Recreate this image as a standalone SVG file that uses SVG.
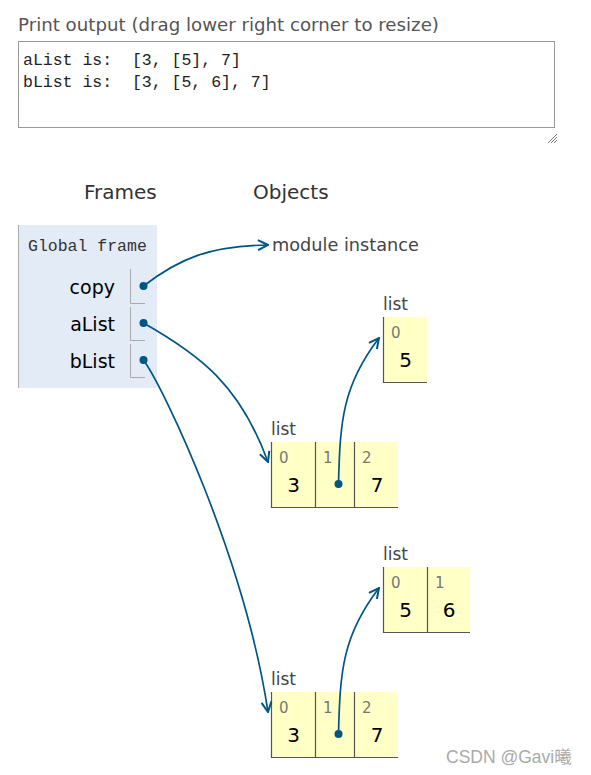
<svg xmlns="http://www.w3.org/2000/svg" width="591" height="775" viewBox="0 0 591 775">
<style>
.ui{font-family:"DejaVu Sans",Verdana,sans-serif}
.mono{font-family:"Liberation Mono","DejaVu Sans Mono",monospace;white-space:pre}
.title{font-size:18.2px;fill:#555}
.hdr{font-size:20px;fill:#333}
.var{font-size:19px;fill:#000}
.lbl{font-size:17px;fill:#444}
.mod{font-size:17.7px;fill:#444}
.idx{font-size:15px;fill:#777}
.val{font-size:20px;fill:#000}
.cell{fill:#ffffc6;stroke:none}
.bord{stroke:#555;stroke-width:1.2;fill:none}
.vcell{stroke:#aaa;stroke-width:1;fill:none}
.conn{stroke:#005583;stroke-width:1.7;fill:none;marker-end:url(#ah)}
.dot{fill:#005583}
</style>
<defs>
<marker id="ah" viewBox="0 0 12 12" refX="11" refY="6" markerWidth="12" markerHeight="12" markerUnits="userSpaceOnUse" orient="auto">
<path d="M1,1 L11,6 L1,11" fill="none" stroke="#005583" stroke-width="2"/>
</marker>
</defs>
<rect width="591" height="775" fill="#fff"/>
<g id="print-output">
<text x="18" y="31" class="ui title">Print output (drag lower right corner to resize)</text>
<rect x="18.5" y="41.5" width="536" height="86" fill="#fff" stroke="#999" stroke-width="1"/>
<text x="23" y="65" class="mono" font-size="16.5" fill="#222" xml:space="preserve">aList is:  [3, [5], 7]</text>
<text x="23" y="87" class="mono" font-size="16.5" fill="#222" xml:space="preserve">bList is:  [3, [5, 6], 7]</text>
<g stroke="#777" stroke-width="1">
<line x1="548" y1="143" x2="557" y2="134"/>
<line x1="551" y1="143" x2="557" y2="137"/>
<line x1="554" y1="143" x2="557" y2="140"/>
</g>
</g>
<text x="84" y="199" class="ui hdr">Frames</text>
<text x="253" y="199" class="ui hdr">Objects</text>
<g id="global-frame">
<rect x="18" y="225" width="139" height="163" fill="#e2ebf6"/>
<line x1="18.5" y1="225" x2="18.5" y2="388" stroke="#aaa" stroke-width="1"/>
<text x="28" y="251" class="mono" font-size="16.5" fill="#333">Global frame</text>
<text x="115" y="294" class="ui var" text-anchor="end">copy</text>
<text x="115" y="331" class="ui var" text-anchor="end">aList</text>
<text x="115" y="368" class="ui var" text-anchor="end">bList</text>
<path class="vcell" d="M130.5,269 V303.5 H145 M130.5,307 V340.5 H145 M130.5,344 V377.5 H145"/>
</g>
<g id="module-instance">
<text x="272" y="251" class="ui mod">module instance</text>
</g>
<g id="list-a-inner">
<text x="383" y="310" class="ui lbl">list</text>
<rect x="383" y="317" width="44" height="66" class="cell"/>
<path class="bord" d="M383.5,317 V382.5 H427"/>
<text x="391" y="338" class="ui idx">0</text>
<text x="405.5" y="367" class="ui val" text-anchor="middle">5</text>
</g>
<g id="list-a">
<text x="271" y="435" class="ui lbl">list</text>
<rect x="271" y="442" width="127" height="66" class="cell"/>
<path class="bord" d="M271.5,442 V507.5 H398 M315.5,442 V507.5 M354.5,442 V507.5"/>
<text x="279" y="463" class="ui idx">0</text>
<text x="323" y="463" class="ui idx">1</text>
<text x="362" y="463" class="ui idx">2</text>
<text x="293.5" y="492" class="ui val" text-anchor="middle">3</text>
<text x="377" y="492" class="ui val" text-anchor="middle">7</text>
</g>
<g id="list-b-inner">
<text x="383" y="560" class="ui lbl">list</text>
<rect x="383" y="567" width="87" height="66" class="cell"/>
<path class="bord" d="M383.5,567 V632.5 H470 M427.5,567 V632.5"/>
<text x="391" y="588" class="ui idx">0</text>
<text x="435" y="588" class="ui idx">1</text>
<text x="405.5" y="617" class="ui val" text-anchor="middle">5</text>
<text x="449" y="617" class="ui val" text-anchor="middle">6</text>
</g>
<g id="list-b">
<text x="271" y="685" class="ui lbl">list</text>
<rect x="271" y="692" width="127" height="66" class="cell"/>
<path class="bord" d="M271.5,692 V757.5 H398 M315.5,692 V757.5 M354.5,692 V757.5"/>
<text x="279" y="713" class="ui idx">0</text>
<text x="323" y="713" class="ui idx">1</text>
<text x="362" y="713" class="ui idx">2</text>
<text x="293.5" y="742" class="ui val" text-anchor="middle">3</text>
<text x="377" y="742" class="ui val" text-anchor="middle">7</text>
</g>
<g id="connectors">
<path class="conn" d="M143.5,286 C180,258 210,246 268,245"/>
<path class="conn" d="M143.5,323 C200,355 240,385 268,462"/>
<path class="conn" d="M143.5,360 C165,390 245,560 268,712"/>
<path class="conn" d="M338.5,484 C340,420 343,385 379,338"/>
<path class="conn" d="M338.5,734 C340,670 343,635 379,588"/>
<circle class="dot" cx="143.5" cy="286" r="4"/>
<circle class="dot" cx="143.5" cy="323" r="4"/>
<circle class="dot" cx="143.5" cy="360" r="4"/>
<circle class="dot" cx="338.5" cy="484" r="4"/>
<circle class="dot" cx="338.5" cy="734" r="4"/>
</g>
<text x="446" y="763" font-family="'Liberation Sans','Noto Sans CJK SC',sans-serif" font-size="17.5" fill="#aaa">CSDN @Gavi曦</text>
</svg>
